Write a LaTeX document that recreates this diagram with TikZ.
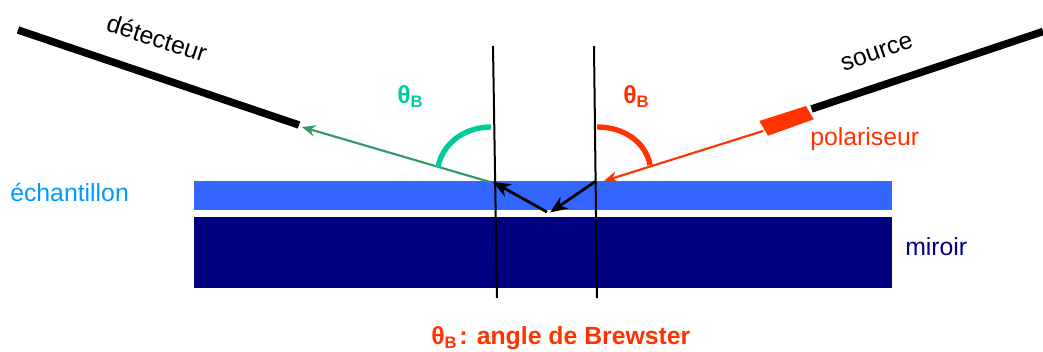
\documentclass[tikz,border=0pt]{standalone}
\usepackage{fontspec}
\setmainfont{Liberation Sans}
\usetikzlibrary{arrows.meta}
\definecolor{sample}{HTML}{3366FF}
\definecolor{mirror}{HTML}{000080}
\definecolor{redo}{HTML}{FF3300}
\definecolor{mint}{HTML}{00CC99}
\definecolor{seagreen}{HTML}{339966}
\definecolor{sky}{HTML}{0099FF}
\newcommand{\thetaB}{\textbf{θ\raisebox{-0.2em}{\fontsize{12.5}{13}\selectfont B}}}
\tikzset{
  x=0.75pt, y=-0.75pt,
  lab/.style={inner sep=0pt, font=\fontsize{18.6}{20}\selectfont},
  boldlab/.style={inner sep=0pt, font=\fontsize{18.6}{20}\selectfont\bfseries},
  normalline/.style={black, line width=1.5pt},
  bar/.style={black, line width=5.6pt},
  tipA/.style={-{Stealth[length=10pt,width=8.5pt]}},
  tipB/.style={-{Stealth[length=13pt,width=10.5pt,inset=4pt]}},
  anglearc/.style={line width=4pt}
}
\begin{document}
\begin{tikzpicture}
\useasboundingbox (0,0) rectangle (1043,351);
% layers
\fill[sample] (194,181) rectangle (892,210);
\fill[mirror] (194,217) rectangle (892,288);
\coordinate (nlt) at (493,46); \coordinate (nlb) at (497,298);
\coordinate (nrt) at (594,46); \coordinate (nrb) at (597,298);
\draw[normalline] (nlt) -- (nlb);
\draw[normalline] (nrt) -- (nrb);
% detector and source bars
\coordinate (d1) at (18,30); \coordinate (d2) at (299,125);
\coordinate (s1) at (811.5,109); \coordinate (s2) at (1043,31.5);
\draw[bar] (d1) -- (d2);
\draw[bar] (s1) -- (s2);
% polariser
\fill[redo] (759.3,121) -- (806,106) -- (813.7,119.3) -- (768,135.7) -- cycle;
% rays
\coordinate (p1) at (763,131); \coordinate (i1) at (604,181);
\coordinate (i2) at (596,181); \coordinate (m) at (550,212.5);
\coordinate (m2) at (547,212); \coordinate (e) at (493,182);
\coordinate (e2) at (490,182); \coordinate (d3) at (302,127);
\draw[redo, line width=1.6pt, tipA] (p1) -- (i1);
\draw[seagreen, line width=1.6pt, tipA] (e2) -- (d3);
\draw[black, line width=2.1pt, tipB] (i2) -- (m);
\draw[black, line width=2.1pt, tipB] (m2) -- (e);
% angle arcs
\coordinate (ar1) at (597,127); \coordinate (ar2) at (650,165);
\coordinate (ag1) at (491,127); \coordinate (ag2) at (438,167);
\draw[redo, anglearc] (ar1) .. controls (625,127) and (646,143) .. (ar2);
\draw[mint, anglearc] (ag1) .. controls (463,127) and (442,145) .. (ag2);
% labels
\node[lab, rotate=-18] (ldet) at (157,38) {détecteur};
\node[lab, rotate=19] (lsrc) at (877,53) {source};
\node[lab, redo, anchor=base west] (lpol) at (810,145) {polariseur};
\node[lab, sky, anchor=base west] (lech) at (10,201) {échantillon};
\node[lab, mirror, anchor=base west] (lmir) at (905,255) {miroir};
\node[boldlab, mint, anchor=base west] (tg) at (397,103) {\thetaB};
\node[boldlab, redo, anchor=base west] (tr) at (623,103) {\thetaB};
\node[boldlab, redo, anchor=base west] (cap) at (431,344) {\thetaB{}\kern-3.2pt{} : angle de Brewster};
\end{tikzpicture}
\end{document}
